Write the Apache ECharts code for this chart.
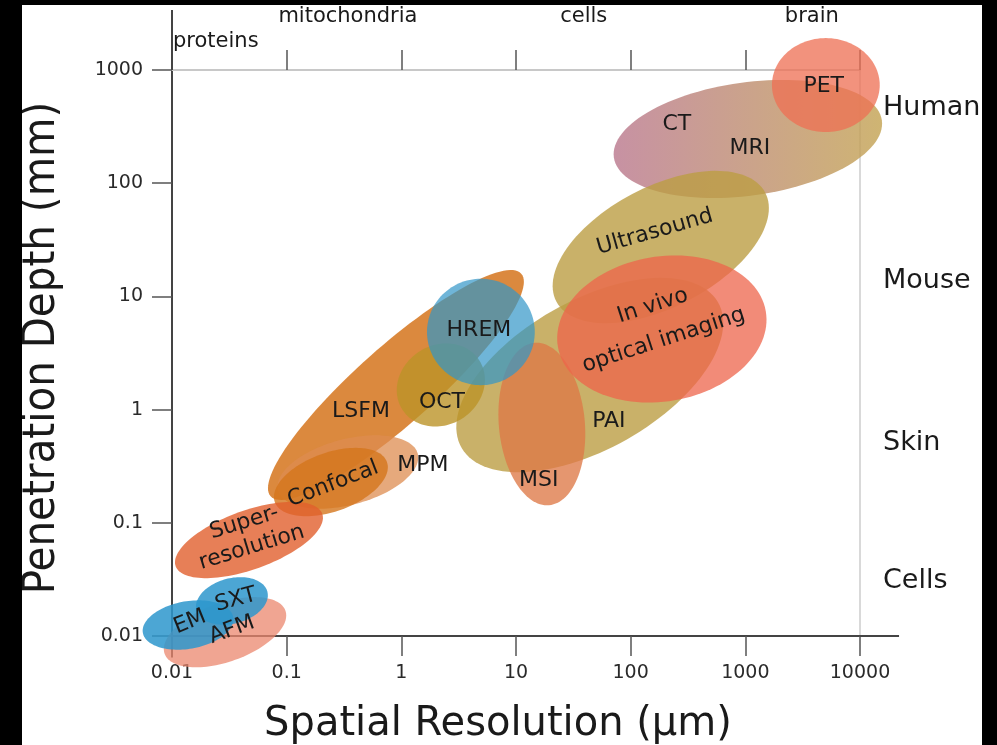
<!DOCTYPE html>
<html><head><meta charset="utf-8">
<script src="https://cdn.jsdelivr.net/npm/echarts@6/dist/echarts.min.js"></script>
<style>html,body{margin:0;padding:0;background:#000;}#c{width:997px;height:745px;}</style>
</head><body><div id="c"></div>
<script>
// ---- data (resolution in µm, depth in mm; spreads are semi-axes in decades) ----
const techniques  = ['CT/MRI','PET','Ultrasound','PAI','MSI','In vivo','LSFM','OCT','HREM','MPM','Confocal','Super-resolution','AFM','EM','SXT'];
const centerRes   = [1052, 5035, 183, 44, 16.8, 187, 0.897, 2.21, 4.94, 0.342, 0.243, 0.0469, 0.029, 0.0138, 0.0333];
const centerDepth = [246, 736, 27.3, 2.02, 0.746, 5.15, 1.65, 1.65, 4.85, 0.281, 0.229, 0.0705, 0.0108, 0.0125, 0.0204];
const spreadRes   = [1.18, 0.47, 1.03, 1.29, 0.375, 0.92, 1.47, 0.40, 0.47, 0.63, 0.52, 0.68, 0.56, 0.40, 0.32];
const spreadDepth = [0.50, 0.415, 0.53, 0.654, 0.72, 0.64, 0.34, 0.35, 0.47, 0.29, 0.26, 0.26, 0.26, 0.21, 0.20];
const tiltDeg     = [8, 0, 28, 30, 5, 10, 42, 35, 0, 15, 20, 20, 20, 10, 15];

const labelText  = ['CT','MRI','PET','Ultrasound','PAI','MSI','In vivo\noptical imaging','LSFM','OCT','HREM','MPM','Confocal','Super-\nresolution','AFM','EM','SXT'];
const labelRes   = [253, 1094, 4830, 162.5, 64.6, 15.8, 174, 0.445, 2.26, 4.75, 1.54, 0.2535, 0.046, 0.0333, 0.01436, 0.0361];
const labelDepth = [333, 205, 723, 37.1, 0.792, 0.239, 5.82, 0.972, 1.167, 5.05, 0.324, 0.220, 0.078, 0.0113, 0.0133, 0.0208];
const labelAngle = [0, 0, 0, 16, 0, 0, 18, 0, 0, 0, 0, 21, 17, 20, 22, 15];

const scaleLabels = ['proteins','mitochondria','cells','brain'];
const scaleRes    = [0.0102, 0.342, 39, 3800];
const scaleDepth  = [1766, 2940, 2940, 2940];

const organismLabels = ['Human','Mouse','Skin','Cells'];
const organismDepth  = [461, 13.7, 0.507, 0.0306];

const xTicks = [0.01, 0.1, 1, 10, 100, 1000, 10000];
const yTicks = [0.01, 0.1, 1, 10, 100, 1000];
// axis line extensions beyond the plotted range [x1,y1,x2,y2]
const axisExtensions = [[0.01, 1000, 0.01, 3390], [0.01, 0.01, 0.01, 0.00646], [10000, 0.01, 21900, 0.01]];

// ---- styles ----
const fills = [
  {type:'linear', x:0, y:0, x2:1, y2:0, colorStops:[{offset:0, color:'rgba(185,118,140,0.8)'},{offset:1, color:'rgba(196,164,84,0.82)'}]},
  'rgba(238,112,84,0.76)',
  'rgba(188,158,68,0.8)',
  'rgba(188,158,68,0.8)',
  'rgba(222,120,70,0.78)',
  'rgba(238,100,75,0.75)',
  'rgba(213,116,28,0.85)',
  'rgba(188,148,40,0.8)',
  'rgba(50,150,200,0.7)',
  'rgba(222,140,80,0.75)',
  'rgba(213,118,28,0.8)',
  'rgba(225,95,45,0.8)',
  'rgba(235,135,110,0.75)',
  'rgba(45,150,205,0.85)',
  'rgba(45,150,205,0.85)'
];
const FONT = '"DejaVu Sans", sans-serif';

const chart = echarts.init(document.getElementById('c'));

function renderEllipse(params, api) {
  const i = params.dataIndex;
  const lx = Math.log10(api.value(0)), ly = Math.log10(api.value(1));
  const a = api.value(2), b = api.value(3), th = api.value(4) * Math.PI / 180;
  const pts = [];
  const N = 120;
  for (let k = 0; k < N; k++) {
    const t = k / N * 2 * Math.PI;
    const u = a * Math.cos(t), v = b * Math.sin(t);
    const dx = u * Math.cos(th) - v * Math.sin(th);
    const dy = u * Math.sin(th) + v * Math.cos(th);
    pts.push(api.coord([Math.pow(10, lx + dx), Math.pow(10, ly + dy)]));
  }
  return {type:'polygon', shape:{points:pts}, style:{fill: fills[i], stroke:null}};
}

function renderLabel(params, api) {
  const i = params.dataIndex;
  const p = api.coord([api.value(0), api.value(1)]);
  const txt = labelText[i];
  return {type:'text', x:p[0], y:p[1], rotation: labelAngle[i] * Math.PI / 180,
    style:{text:txt, fill:'#1a1a1a', fontSize:22, fontFamily:FONT, align:'center', verticalAlign:'middle',
      lineHeight: txt.indexOf('In vivo') === 0 ? 36 : 26}};
}

function renderScale(params, api) {
  const i = params.dataIndex;
  const p = api.coord([api.value(0), api.value(1)]);
  return {type:'text', x:p[0], y:p[1],
    style:{text:scaleLabels[i], fill:'#1a1a1a', fontSize:21, fontFamily:FONT, align: i === 0 ? 'left' : 'center', verticalAlign:'middle'}};
}

function renderOrganism(params, api) {
  const i = params.dataIndex;
  const p = api.coord([api.value(0), api.value(1)]);
  return {type:'text', x:p[0] + 23, y:p[1],
    style:{text:organismLabels[i], fill:'#1a1a1a', fontSize:27, fontFamily:FONT, align:'left', verticalAlign:'middle'}};
}

function renderExt(params, api) {
  const p1 = api.coord([api.value(0), api.value(1)]);
  const p2 = api.coord([api.value(2), api.value(3)]);
  return {type:'line', shape:{x1:p1[0], y1:p1[1], x2:p2[0], y2:p2[1]}, style:{stroke:'#444', lineWidth:2}};
}

const fmt = v => String(+(+v).toPrecision(6));

chart.setOption({
  backgroundColor:'#fff',
  animation:false,
  grid:{left:172, right:137, top:70, bottom:109, containLabel:false},
  xAxis:[
    {type:'log', logBase:10, min:xTicks[0], max:xTicks[xTicks.length-1], position:'bottom',
     axisLine:{show:true, lineStyle:{color:'#444', width:2}},
     axisTick:{show:true, length:20, lineStyle:{color:'#555', width:1.5}},
     minorTick:{show:false}, splitLine:{show:false},
     axisLabel:{show:true, margin:28, fontSize:19, color:'#2a2a2a', fontFamily:FONT, formatter:fmt}},
    {type:'log', logBase:10, min:xTicks[0], max:xTicks[xTicks.length-1], position:'top',
     axisLine:{show:true, lineStyle:{color:'#c8c8c8', width:2}},
     axisTick:{show:true, length:20, lineStyle:{color:'#555', width:1.5}},
     minorTick:{show:false}, splitLine:{show:false}, axisLabel:{show:false}}
  ],
  yAxis:[
    {type:'log', logBase:10, min:yTicks[0], max:yTicks[yTicks.length-1], position:'left',
     axisLine:{show:true, lineStyle:{color:'#444', width:2}},
     axisTick:{show:true, length:20, lineStyle:{color:'#555', width:1.5}},
     minorTick:{show:false}, splitLine:{show:false},
     axisLabel:{show:true, margin:29, fontSize:19, color:'#2a2a2a', fontFamily:FONT, formatter:fmt}},
    {type:'log', logBase:10, min:yTicks[0], max:yTicks[yTicks.length-1], position:'right',
     axisLine:{show:true, lineStyle:{color:'#cccccc', width:1.5}},
     axisTick:{show:false}, minorTick:{show:false}, splitLine:{show:false}, axisLabel:{show:false}}
  ],
  graphic:[
    {type:'text', x:498, y:725, style:{text:'Spatial Resolution (µm)', fill:'#1a1a1a', fontSize:40, fontFamily:FONT, align:'center', verticalAlign:'middle'}, z:10},
    {type:'text', x:42, y:348, rotation:Math.PI/2, style:{text:'Penetration Depth (mm)', fill:'#1a1a1a', fontSize:45, fontFamily:'"DejaVu Sans Condensed", "DejaVu Sans", sans-serif', align:'center', verticalAlign:'middle'}, z:10},
    {type:'rect', shape:{x:0, y:0, width:22, height:745}, style:{fill:'#000'}, z:100},
    {type:'rect', shape:{x:0, y:0, width:997, height:5}, style:{fill:'#000'}, z:100},
    {type:'rect', shape:{x:982, y:0, width:15, height:745}, style:{fill:'#000'}, z:100}
  ],
  series:[
    {type:'custom', name:'axisExt', xAxisIndex:0, yAxisIndex:0, renderItem:renderExt, data:axisExtensions, z:1, silent:true},
    {type:'custom', name:'techniques', xAxisIndex:0, yAxisIndex:0, renderItem:renderEllipse, clip:false, z:2,
     data: techniques.map((t, i) => ({name:t, value:[centerRes[i], centerDepth[i], spreadRes[i], spreadDepth[i], tiltDeg[i]]}))},
    {type:'custom', name:'labels', xAxisIndex:0, yAxisIndex:0, renderItem:renderLabel, clip:false, z:5,
     data: labelText.map((t, i) => [labelRes[i], labelDepth[i]])},
    {type:'custom', name:'scales', xAxisIndex:0, yAxisIndex:0, renderItem:renderScale, clip:false, z:5,
     data: scaleLabels.map((t, i) => [scaleRes[i], scaleDepth[i]])},
    {type:'custom', name:'organisms', xAxisIndex:0, yAxisIndex:0, renderItem:renderOrganism, clip:false, z:5,
     data: organismLabels.map((t, i) => [xTicks[xTicks.length-1], organismDepth[i]])}
  ]
});
</script></body></html>
